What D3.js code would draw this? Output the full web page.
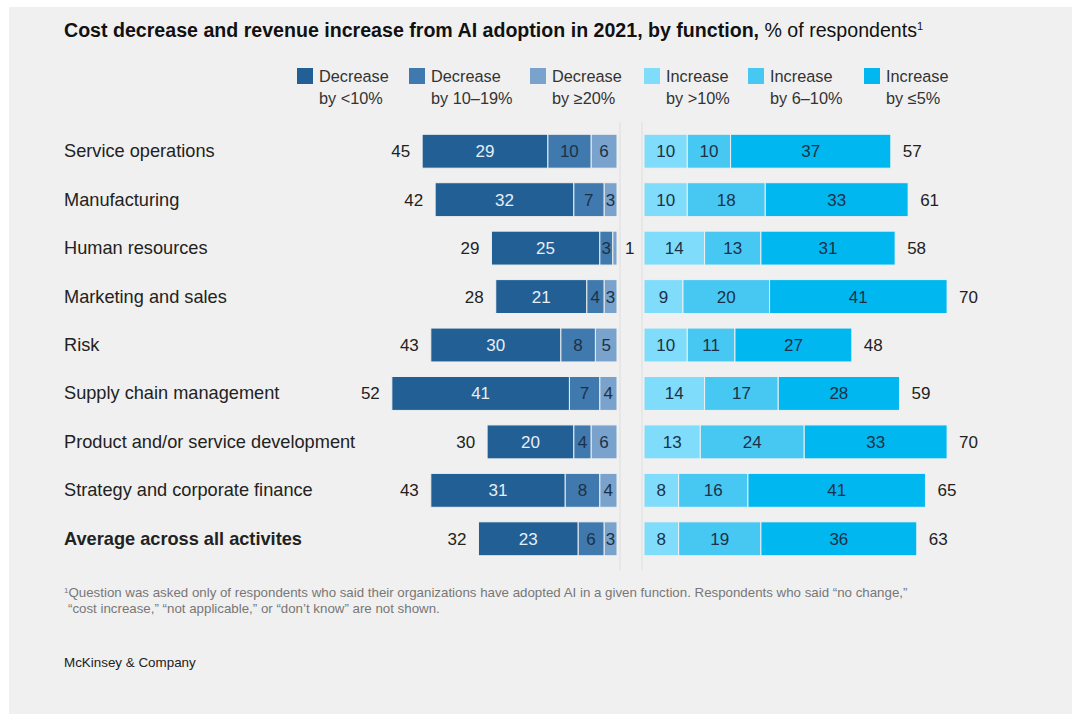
<!DOCTYPE html>
<html>
<head>
<meta charset="utf-8">
<script src="https://cdn.jsdelivr.net/npm/d3@7"></script>
<style>
  html, body { margin: 0; padding: 0; background: #fff; }
  svg { display: block; font-family: "Liberation Sans", Arial, sans-serif; }
</style>
</head>
<body>
<svg id="svg" width="1072" height="714"></svg>
<script>
const categories = [
  'Service operations',
  'Manufacturing',
  'Human resources',
  'Marketing and sales',
  'Risk',
  'Supply chain management',
  'Product and/or service development',
  'Strategy and corporate finance',
  'Average across all activites'
]

// cost decrease (from center outward: >=20%, 10-19%, <10%)
const decLess10 = [29, 32, 25, 21, 30, 41, 20, 31, 23]
const dec10to19 = [10, 7, 3, 4, 8, 7, 4, 8, 6]
const decOver20 = [6, 3, 1, 3, 5, 4, 6, 4, 3]
const decTotal = [45, 42, 29, 28, 43, 52, 30, 43, 32]

// revenue increase (from center outward: >10%, 6-10%, <=5%)
const incOver10 = [10, 10, 14, 9, 10, 14, 13, 8, 8]
const inc6to10 = [10, 18, 13, 20, 11, 17, 24, 16, 19]
const incUpTo5 = [37, 33, 31, 41, 27, 28, 33, 41, 36]
const incTotal = [57, 61, 58, 70, 48, 59, 70, 65, 63]

const legendLines = [
  ['Decrease', 'by <10%'],
  ['Decrease', 'by 10\u201319%'],
  ['Decrease', 'by \u226520%'],
  ['Increase', 'by >10%'],
  ['Increase', 'by 6\u201310%'],
  ['Increase', 'by \u22645%']
]
const colors = ['#215f95', '#3f79ad', '#79a3cc', '#7fdcfa', '#47c8f3', '#00b7f0']
const legendX = [297, 409, 530, 644, 748, 864]

const svg = d3.select('#svg')

svg.append('rect')
  .attr('x', 9).attr('y', 7)
  .attr('width', 1063).attr('height', 707)
  .attr('fill', '#f0f0f0')

// title
const title = svg.append('text')
  .attr('x', 64).attr('y', 37)
  .attr('font-size', 19.6)
  .attr('fill', '#111')
title.append('tspan').attr('font-weight', 'bold')
  .text('Cost decrease and revenue increase from AI adoption in 2021, by function,')
title.append('tspan').text(' % of respondents')
title.append('tspan').attr('font-size', 11).attr('dy', -7).text('1')

// legend
const legend = svg.selectAll('.legend')
  .data(legendLines)
  .join('g')
  .attr('class', 'legend')
  .attr('transform', (d, i) => `translate(${legendX[i]},0)`)
legend.append('rect')
  .attr('x', 0).attr('y', 68)
  .attr('width', 16).attr('height', 16)
  .attr('fill', (d, i) => colors[i])
legend.append('text')
  .attr('x', 22).attr('y', 82)
  .attr('font-size', 16.3).attr('fill', '#333')
  .text(d => d[0])
legend.append('text')
  .attr('x', 22).attr('y', 104)
  .attr('font-size', 16.3).attr('fill', '#333')
  .text(d => d[1])

// scales
const leftEnd = 617
const rightStart = 644
const unit = d3.scaleLinear().domain([0, 10]).range([0, 43.3])

const yScale = d3.scaleBand()
  .domain(categories)
  .range([127, 563])
  .paddingInner(0.3)
  .paddingOuter(0.15)

// center divider lines
svg.selectAll('.divider')
  .data([leftEnd + 3, rightStart - 2])
  .join('line')
  .attr('x1', d => d).attr('x2', d => d)
  .attr('y1', 122).attr('y2', 570)
  .attr('stroke', '#dedede')
  .attr('stroke-width', 1)

// row labels
svg.selectAll('.cat')
  .data(categories)
  .join('text')
  .attr('x', 64)
  .attr('y', d => yScale(d) + yScale.bandwidth() / 2 + 6)
  .attr('font-size', 18.2)
  .attr('font-weight', (d, i) => i === categories.length - 1 ? 'bold' : 'normal')
  .attr('fill', '#222')
  .text(d => d)

// build segments
const segments = []
categories.forEach((c, i) => {
  const left = [decOver20[i], dec10to19[i], decLess10[i]]
  const leftColors = [2, 1, 0]
  let acc = 0
  left.forEach((v, k) => {
    const x1 = leftEnd - unit(acc + v)
    const x2 = leftEnd - unit(acc)
    segments.push({ cat: c, v, x1, x2, color: leftColors[k], side: 'left' })
    acc += v
  })
  const right = [incOver10[i], inc6to10[i], incUpTo5[i]]
  acc = 0
  right.forEach((v, k) => {
    const x1 = rightStart + unit(acc)
    const x2 = rightStart + unit(acc + v)
    segments.push({ cat: c, v, x1, x2, color: 3 + k, side: 'right' })
    acc += v
  })
})

svg.selectAll('.seg')
  .data(segments)
  .join('rect')
  .attr('x', d => d.x1)
  .attr('y', d => yScale(d.cat))
  .attr('width', d => d.x2 - d.x1)
  .attr('height', yScale.bandwidth())
  .attr('fill', d => colors[d.color])
  .attr('stroke', '#f0f0f0')
  .attr('stroke-width', 1)

svg.selectAll('.segLabel')
  .data(segments)
  .join('text')
  .attr('x', d => (d.x2 - d.x1) < 10 ? d.x2 + 8 : (d.x1 + d.x2) / 2)
  .attr('y', d => yScale(d.cat) + yScale.bandwidth() / 2 + 6)
  .attr('text-anchor', d => (d.x2 - d.x1) < 10 ? 'start' : 'middle')
  .attr('font-size', 17)
  .attr('fill', d => (d.x2 - d.x1) < 10 ? '#222' : d.color === 0 ? '#e6eef6' : '#1c3148')
  .text(d => d.v)

// totals
svg.selectAll('.decTotal')
  .data(categories)
  .join('text')
  .attr('x', (d, i) => leftEnd - unit(decTotal[i]) - 12)
  .attr('y', d => yScale(d) + yScale.bandwidth() / 2 + 6)
  .attr('text-anchor', 'end')
  .attr('font-size', 17)
  .attr('fill', '#222')
  .text((d, i) => decTotal[i])

svg.selectAll('.incTotal')
  .data(categories)
  .join('text')
  .attr('x', (d, i) => rightStart + unit(incTotal[i]) + 12)
  .attr('y', d => yScale(d) + yScale.bandwidth() / 2 + 6)
  .attr('font-size', 17)
  .attr('fill', '#222')
  .text((d, i) => incTotal[i])

// footnote
const foot = svg.append('text')
  .attr('x', 64).attr('y', 597)
  .attr('font-size', 13.3)
  .attr('fill', '#777')
foot.append('tspan').attr('font-size', 8).attr('dy', -4).text('1')
foot.append('tspan').attr('dy', 4)
  .text('Question was asked only of respondents who said their organizations have adopted AI in a given function. Respondents who said \u201cno change,\u201d')
svg.append('text')
  .attr('x', 68).attr('y', 613)
  .attr('font-size', 13.3)
  .attr('fill', '#777')
  .text('\u201ccost increase,\u201d \u201cnot applicable,\u201d or \u201cdon\u2019t know\u201d are not shown.')

svg.append('text')
  .attr('x', 64).attr('y', 667)
  .attr('font-size', 13.4)
  .attr('fill', '#222')
  .text('McKinsey & Company')
</script>
</body>
</html>
